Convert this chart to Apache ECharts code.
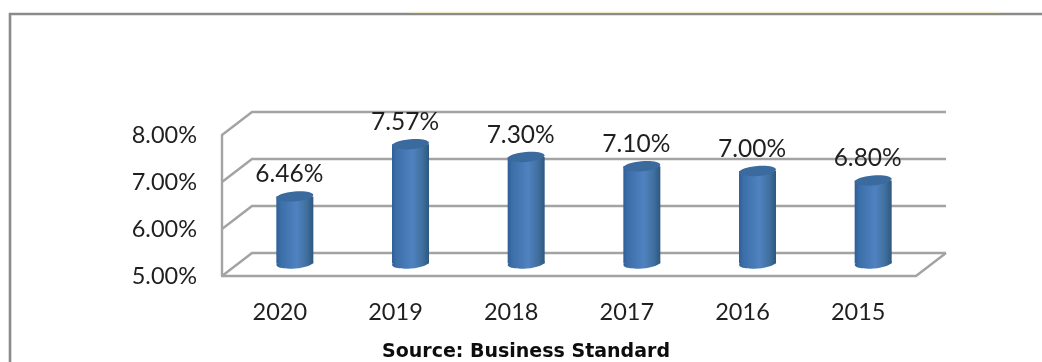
<!DOCTYPE html>
<html>
<head>
<meta charset="utf-8">
<style>html,body{margin:0;padding:0;background:#fff}#chart{width:1042px;height:362px}</style>
<script src="https://cdn.jsdelivr.net/npm/echarts@6/dist/echarts.min.js"></script>
</head>
<body>
<div id="chart"></div>
<script>
// GDP growth by year, newest first
const years = ['2020', '2019', '2018', '2017', '2016', '2015'];
const growth = [6.46, 7.57, 7.30, 7.10, 7.00, 6.80];
const axisTicks = [5, 6, 7, 8];
const sourceText = 'Source: Business Standard';

// Oblique projection of the chart box
const DEPTH_X = 30, DEPTH_Y = 23;
const WALL = '#a3a3a3';

function renderWall(params, api) {
  const cs = params.coordSys;
  const p = api.coord([0, api.value(0)]);
  const y = p[1], left = cs.x, right = cs.x + cs.width;
  const isFloor = api.value(0) === axisTicks[0];
  const points = [[left, y], [left + DEPTH_X, y - DEPTH_Y], [right + DEPTH_X, y - DEPTH_Y]];
  const children = [{ type: 'polyline', shape: { points }, style: { stroke: WALL, lineWidth: 2.4, fill: null } }];
  if (isFloor) {
    children.push({
      type: 'polyline',
      shape: { points: [[left, y], [right, y], [right + DEPTH_X, y - DEPTH_Y]] },
      style: { stroke: WALL, lineWidth: 2.4, fill: null }
    });
  }
  return { type: 'group', children };
}

function renderCylinder(params, api) {
  const idx = api.value(0), val = api.value(1);
  const c = api.coord([idx, val]);
  const b = api.coord([idx, axisTicks[0]]);
  const x = c[0] + DEPTH_X / 2, top = c[1] - DEPTH_Y / 2 + 0.5, bot = b[1] - DEPTH_Y / 2 - 1;
  const rx = 18.5, ry = 5, tilt = 0.085;
  const body = new echarts.graphic.LinearGradient(0, 0, 1, 0, [
    { offset: 0, color: '#2f5f98' },
    { offset: 0.12, color: '#3c6ea8' },
    { offset: 0.55, color: '#4f82c0' },
    { offset: 0.82, color: '#41709f' },
    { offset: 1, color: '#2c577f' }
  ]);
  const label = growth[idx].toFixed(2) + '%';
  return {
    type: 'group',
    children: [
      { type: 'ellipse', x, y: bot, rotation: tilt, shape: { cx: 0, cy: 0, rx, ry }, style: { fill: body } },
      { type: 'rect', shape: { x: x - rx, y: top, width: rx * 2, height: bot - top }, style: { fill: body } },
      { type: 'ellipse', x, y: top, rotation: tilt, shape: { cx: 0, cy: 0, rx, ry }, style: { fill: '#3b6a9e' } },
      {
        type: 'text', x: x - 5.5, y: top - 22,
        style: { text: label, fill: '#1f1f1f', font: '24.5px Lato', textAlign: 'center', textVerticalAlign: 'middle' }
      }
    ]
  };
}

const chart = echarts.init(document.getElementById('chart'), null, { renderer: 'canvas' });
chart.setOption({
  animation: false,
  backgroundColor: '#fff',
  title: {
    text: sourceText, left: 521, top: 338, textAlign: 'center',
    textStyle: { fontFamily: 'DejaVu Sans', fontWeight: 'bold', fontSize: 19, color: '#0d0d0d' }
  },
  grid: { left: 222, top: 135, width: 694, height: 141 },
  xAxis: {
    type: 'category', data: years,
    axisLine: { show: false }, axisTick: { show: false },
    axisLabel: { fontFamily: 'Lato', fontSize: 23.5, color: '#1f1f1f', margin: 24 }
  },
  yAxis: {
    type: 'value', min: 5, max: 8, interval: 1,
    axisLine: { show: true, lineStyle: { color: WALL, width: 2.4 } },
    axisTick: { show: false }, splitLine: { show: false },
    axisLabel: {
      fontFamily: 'Lato', fontSize: 23.5, color: '#1f1f1f', margin: 25,
      padding: [8, 0, 0, 0], formatter: v => v.toFixed(2) + '%'
    }
  },
  graphic: [
    {
      type: 'polyline', silent: true,
      shape: { points: [[10, 362], [10, 14], [1042, 14]] },
      style: { stroke: '#8a8a8a', lineWidth: 2.6, fill: null }
    },
    {
      type: 'line', silent: true,
      shape: { x1: 410, y1: 12, x2: 1000, y2: 12 },
      style: { stroke: '#fdf6b0', lineWidth: 1.2 }
    }
  ],
  series: [
    {
      type: 'custom', coordinateSystem: 'cartesian2d', renderItem: renderWall,
      data: axisTicks.map(t => [t]), encode: { y: 0 }, silent: true, z: 1
    },
    {
      type: 'custom', coordinateSystem: 'cartesian2d', renderItem: renderCylinder,
      data: growth.map((v, i) => [i, v]), encode: { x: 0, y: 1 }, z: 2
    }
  ]
});
</script>
</body>
</html>
